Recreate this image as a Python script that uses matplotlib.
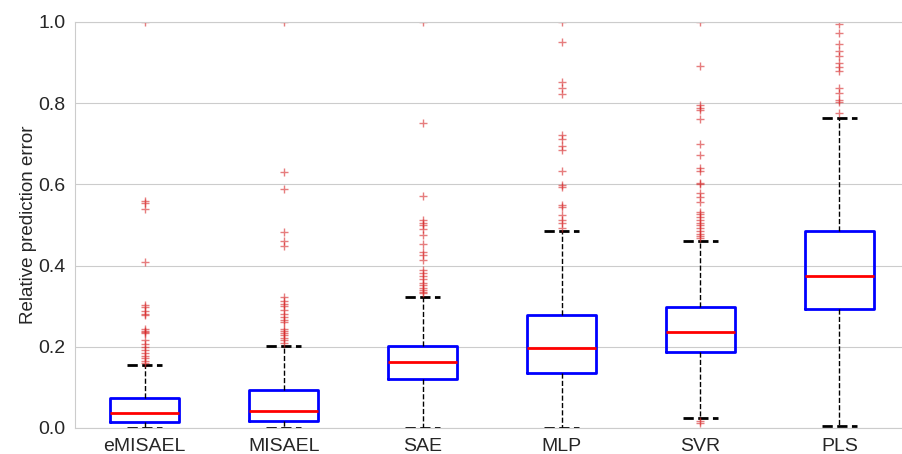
import matplotlib
matplotlib.use("Agg")
import matplotlib.pyplot as plt
import seaborn as sns

# values
models = ["eMISAEL", "MISAEL", "SAE", "MLP", "SVR", "PLS"]
q1 = [0.016, 0.017, 0.121, 0.136, 0.186, 0.292]
median = [0.036, 0.043, 0.162, 0.198, 0.236, 0.374]
q3 = [0.073, 0.094, 0.203, 0.278, 0.297, 0.484]
whisker_low = [0.0, 0.0, 0.0, 0.0, 0.024, 0.005]
whisker_high = [0.154, 0.202, 0.323, 0.485, 0.461, 0.764]

fliers_emisael = [1.0, 0.559, 0.555, 0.539, 0.408, 0.302, 0.297, 0.288, 0.282, 0.278,
                  0.245, 0.24, 0.236, 0.233, 0.216, 0.208, 0.2, 0.192, 0.185, 0.178,
                  0.172, 0.166, 0.16]
fliers_misael = [1.0, 0.63, 0.589, 0.483, 0.461, 0.449, 0.323, 0.312, 0.306, 0.3,
                 0.29, 0.282, 0.273, 0.266, 0.26, 0.245, 0.24, 0.235, 0.23, 0.222,
                 0.216, 0.21]
fliers_sae = [1.0, 0.752, 0.571, 0.512, 0.506, 0.5, 0.49, 0.475, 0.453, 0.434, 0.425,
              0.414, 0.389, 0.382, 0.374, 0.366, 0.358, 0.352, 0.346, 0.34, 0.336, 0.332]
fliers_mlp = [1.0, 0.951, 0.853, 0.838, 0.822, 0.722, 0.713, 0.695, 0.685, 0.633,
              0.598, 0.594, 0.549, 0.544, 0.525, 0.513, 0.505, 0.493]
fliers_svr = [1.0, 0.892, 0.796, 0.789, 0.783, 0.76, 0.699, 0.672, 0.64, 0.634, 0.604,
              0.6, 0.579, 0.568, 0.557, 0.533, 0.526, 0.52, 0.513, 0.506, 0.5, 0.493,
              0.486, 0.479, 0.473, 0.467, 0.018, 0.012]
fliers_pls = [0.995, 0.972, 0.947, 0.929, 0.916, 0.898, 0.89, 0.88, 0.838, 0.824,
              0.808, 0.804, 0.775]
fliers = [fliers_emisael, fliers_misael, fliers_sae, fliers_mlp, fliers_svr, fliers_pls]

sns.set_style("whitegrid")
plt.rcParams["font.family"] = ["Liberation Sans", "DejaVu Sans"]

stats = []
for i, name in enumerate(models):
    stats.append({
        "label": name, "q1": q1[i], "med": median[i], "q3": q3[i],
        "whislo": whisker_low[i], "whishi": whisker_high[i], "fliers": fliers[i],
    })

fig = plt.figure(figsize=(9.02, 4.54), dpi=100)
ax = fig.add_axes([75.3 / 902, 26 / 454, 833.5 / 902, 406 / 454])

ax.bxp(stats, widths=0.5, showfliers=True,
       boxprops=dict(color="blue", linewidth=2),
       medianprops=dict(color="red", linewidth=2),
       whiskerprops=dict(color="black", linestyle="--", linewidth=1),
       capprops=dict(color="black", linestyle="--", linewidth=2),
       flierprops=dict(marker="+", markeredgecolor="#d62728", alpha=0.6,
                       markersize=6, linestyle="none"))

ax.set_xlim(0.5, 6.5)
ax.set_ylim(0, 1.0)
ax.set_yticks([0.0, 0.2, 0.4, 0.6, 0.8, 1.0])
ax.xaxis.grid(False)
ax.set_ylabel("Relative prediction error", fontsize=13.5, labelpad=1)
ax.tick_params(axis="both", labelsize=14)

fig.savefig("out.png", dpi=100)
